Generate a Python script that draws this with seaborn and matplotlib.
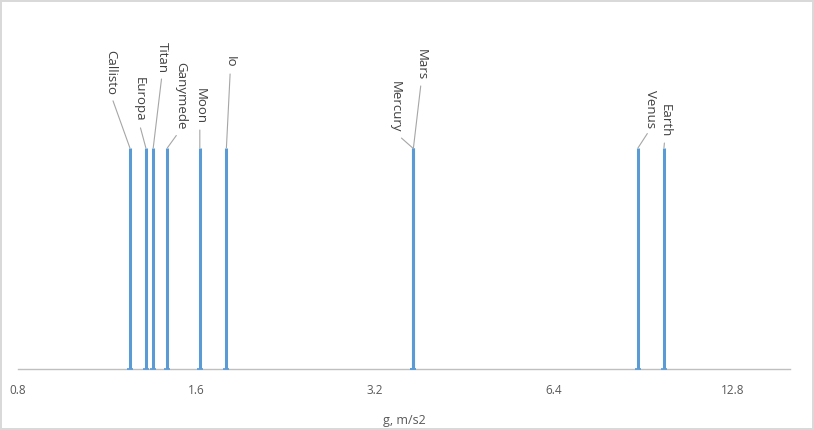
import numpy as np
import pandas as pd
import matplotlib
matplotlib.use("Agg")
import matplotlib.pyplot as plt
import seaborn as sns

# Surface gravity of solar system bodies
bodies = ['Callisto', 'Europa', 'Titan', 'Ganymede', 'Moon', 'Io',
          'Mercury', 'Mars', 'Venus', 'Earth']
gravity = [1.235, 1.314, 1.352, 1.428, 1.62, 1.796, 3.70, 3.711, 8.87, 9.81]
tick_values = [0.8, 1.6, 3.2, 6.4, 12.8]

# label offsets from the top of each line (pixels)
label_dx = [-19, -7, 9, 13, 0, 4, -17, 8, 13, 1]
label_dy = [53, 26, 75, 18, 24, 80, 15, 68, 20, 11]

df = pd.DataFrame({'body': bodies, 'g': gravity})

sns.set_theme(style="white")
plt.rcParams['font.family'] = ['Open Sans', 'DejaVu Sans']

line_color = '#5B9BD5'
fig = plt.figure(figsize=(8.14, 4.30), dpi=100)
fig.patch.set_edgecolor('#D9D9D9')
fig.patch.set_linewidth(1.5)
ax = fig.add_axes([18 / 814, 61 / 430, 772 / 814, 359 / 430])

ax.set_xscale('log', base=2)
ax.set_xlim(0.8, 16.0)
ax.set_ylim(0, 1.624)

sns.rugplot(data=df, x='g', height=221 / 359, linewidth=2.2, color=line_color, ax=ax, clip_on=False)
sns.scatterplot(data=df.assign(y=0), x='g', y='y', marker='_', s=25, color=line_color,
                linewidth=1.2, ax=ax, clip_on=False, legend=False, zorder=3)

for name, g, dx, dy in zip(bodies, gravity, label_dx, label_dy):
    ax.annotate(name, xy=(g, 1.0), xytext=(dx, dy), textcoords='offset pixels',
                rotation=270, ha='center', va='bottom', fontsize=9.5, color='#404040',
                annotation_clip=False,
                arrowprops=dict(arrowstyle='-', color='#A6A6A6', lw=0.8,
                                relpos=(0.5, 0), shrinkA=2, shrinkB=0))

ax.set_xticks(tick_values)
ax.set_xticklabels([str(v) for v in tick_values], fontsize=8.5, color='#595959')
ax.xaxis.set_minor_locator(matplotlib.ticker.NullLocator())
ax.set_yticks([])
ax.tick_params(axis='x', length=5, color='#BFBFBF', direction='out', pad=6)
ax.set_xlabel('g, m/s2', fontsize=9, color='#595959', labelpad=12)
for side in ['top', 'right', 'left']:
    ax.spines[side].set_visible(False)
ax.spines['bottom'].set_color('#BFBFBF')
ax.spines['bottom'].set_linewidth(1)
ax.set_ylabel('')

fig.savefig("out.png", dpi=100)
